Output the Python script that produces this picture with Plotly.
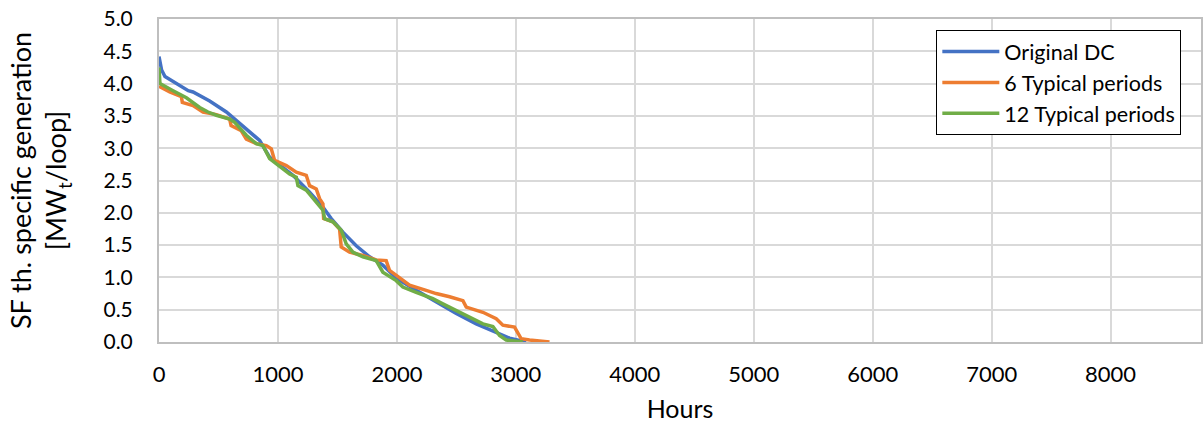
import plotly.graph_objects as go

# Original duration curve
dc_hours = [0, 10, 22, 50, 134, 246, 286, 426, 566, 650, 762, 846, 930, 1000, 1126, 1266, 1378, 1448, 1546,
            1658, 1770, 1882, 2000, 2162, 2330, 2499, 2667, 2835, 2947, 3087]
dc_vals = [4.42, 4.30, 4.21, 4.11, 4.01, 3.89, 3.87, 3.73, 3.56, 3.43, 3.25, 3.12, 2.86, 2.76, 2.58, 2.32, 2.09, 1.91, 1.70,
           1.49, 1.32, 1.19, 0.98, 0.80, 0.62, 0.44, 0.28, 0.15, 0.06, 0.0]

# 6 typical periods
p6_hours = [0, 90, 188, 196, 286, 356, 370, 482, 594, 606, 692, 734, 818, 902, 944, 972, 1014, 1070,
            1154, 1238, 1266, 1322, 1350, 1378, 1384, 1462, 1518, 1532, 1602, 1714, 1826, 1910, 1938,
            1994, 2106, 2246, 2330, 2443, 2555, 2583, 2723, 2835, 2891, 2989, 3045, 3115, 3283]
p6_vals = [3.96, 3.87, 3.80, 3.71, 3.66, 3.58, 3.56, 3.52, 3.45, 3.35, 3.27, 3.14, 3.07, 3.04, 2.99, 2.81,
           2.77, 2.73, 2.63, 2.58, 2.42, 2.37, 2.22, 2.14, 1.91, 1.86, 1.75, 1.47, 1.39, 1.34, 1.27, 1.26,
           1.11, 1.03, 0.88, 0.80, 0.75, 0.70, 0.64, 0.54, 0.46, 0.36, 0.26, 0.23, 0.05, 0.03, 0.0]

# 12 typical periods
p12_hours = [0, 8, 118, 230, 342, 412, 482, 594, 636, 734, 818, 874, 930, 986, 1098, 1154, 1168, 1238,
             1322, 1378, 1392, 1462, 1532, 1574, 1630, 1714, 1826, 1882, 1994, 2050, 2162, 2302, 2386,
             2499, 2611, 2723, 2807, 2863, 2919, 3059]
p12_vals = [4.25, 4.00, 3.89, 3.78, 3.63, 3.56, 3.51, 3.45, 3.40, 3.20, 3.07, 3.04, 2.84, 2.76, 2.60, 2.55,
            2.42, 2.35, 2.16, 2.04, 1.91, 1.86, 1.73, 1.52, 1.39, 1.32, 1.26, 1.08, 0.95, 0.85, 0.77, 0.67,
            0.59, 0.49, 0.39, 0.28, 0.24, 0.10, 0.03, 0.0]

series_names = ["Original DC", "6 Typical periods", "12 Typical periods"]
colors = ["#4472C4", "#ED7D31", "#70AD47"]

FONT = "Lato, 'Open Sans', sans-serif"

fig = go.Figure()
for name, xs, ys, c in zip(series_names, [dc_hours, p6_hours, p12_hours],
                           [dc_vals, p6_vals, p12_vals], colors):
    fig.add_trace(go.Scatter(x=xs, y=ys, mode="lines", name=name,
                             line=dict(color=c, width=3.5)))

fig.update_layout(
    width=1203, height=423,
    margin=dict(l=159, r=2, t=19, b=81),
    paper_bgcolor="white", plot_bgcolor="white",
    font=dict(family=FONT, size=21, color="black"),
    showlegend=True,
    legend=dict(x=0.746, y=0.966, xanchor="left", yanchor="top",
                bgcolor="white", bordercolor="black", borderwidth=1,
                font=dict(size=21.5), tracegroupgap=0, itemwidth=57),
)
fig.update_xaxes(
    range=[0, 8760], tick0=0, dtick=1000, showgrid=True, gridcolor="#d9d9d9", gridwidth=2,
    showline=True, linecolor="#bfbfbf", linewidth=2, mirror=True, zeroline=False,
    ticks="", ticklabelstandoff=12, automargin=False, tickfont=dict(size=22),
    ticklabeloverflow="allow",
    title=dict(text="Hours", font=dict(size=25), standoff=20),
)
fig.update_yaxes(
    range=[0, 5], tick0=0, dtick=0.5, tickformat=".1f", showgrid=True, gridcolor="#d9d9d9", gridwidth=2,
    showline=True, linecolor="#bfbfbf", linewidth=2, mirror=True, zeroline=False,
    ticks="", ticklabelstandoff=20, automargin=False, tickfont=dict(size=21),
    ticklabeloverflow="allow",
    title=dict(text="SF th. specific generation<br>[MW<sub>t</sub>/loop]", font=dict(size=27), standoff=29),
)

# remove the default 8px page margin so the figure fills the window exactly
fig.write_html("out.html", config={"displayModeBar": False},
               post_script="document.body.style.margin='0';")
